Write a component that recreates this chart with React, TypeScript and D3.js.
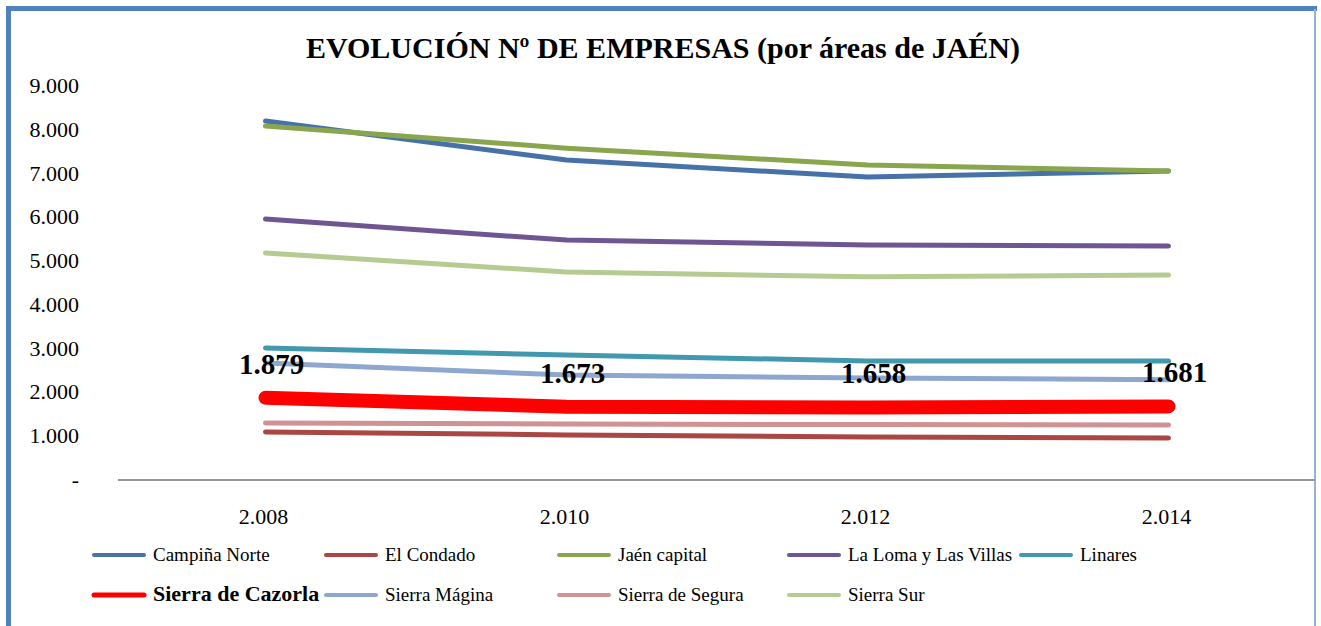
import React from "react";
import * as d3 from "d3";

const years = ["2.008", "2.010", "2.012", "2.014"];
const yTicks = [0, 1000, 2000, 3000, 4000, 5000, 6000, 7000, 8000, 9000];

const campinaNorte = [8200, 7310, 6920, 7060];
const elCondado = [1095, 1030, 980, 960];
const jaenCapital = [8085, 7580, 7195, 7060];
const laLoma = [5960, 5480, 5370, 5345];
const linares = [3015, 2855, 2720, 2720];
const sierraCazorla = [1879, 1673, 1658, 1681];
const sierraMagina = [2670, 2400, 2330, 2290];
const sierraSegura = [1300, 1280, 1265, 1255];
const sierraSur = [5185, 4750, 4640, 4680];

const seriesNames = [
  "Campiña Norte", "El Condado", "Jaén capital", "La Loma y Las Villas", "Linares",
  "Sierra de Cazorla", "Sierra Mágina", "Sierra de Segura", "Sierra Sur",
];
const seriesValues = [
  campinaNorte, elCondado, jaenCapital, laLoma, linares,
  sierraCazorla, sierraMagina, sierraSegura, sierraSur,
];
const seriesColors = [
  "#4672A8", "#AA4643", "#89A54E", "#6F5592", "#4198AF",
  "#FF0000", "#8EA7CE", "#D09293", "#B5CB92",
];
const highlight = "Sierra de Cazorla";

const W = 1321, H = 626;
const FONT = "'Liberation Serif', 'Times New Roman', serif";

const loc = d3.formatLocale({ decimal: ",", thousands: ".", grouping: [3], currency: ["", ""] });
const fmt = loc.format(",.0f");

export default function App() {
  const x = d3.scaleBand<string>().domain(years).range([115, 1319]).padding(0);
  const y = d3.scaleLinear().domain([0, 9000]).range([480, 86]);
  const cx = (i: number) => (x(years[i]) as number) + x.bandwidth() / 2;
  const line = d3.line<number>().x((_, i) => cx(i)).y((v) => y(v));

  const legendCols = [94, 326, 559, 789, 1021];
  const legendRows = [555, 595];

  return (
    <svg width={W} height={H} style={{ position: "absolute", left: 0, top: 0, background: "#fff" }} fontFamily={FONT}>
      <rect x={0} y={0} width={W} height={H} fill="#fff" />
      {/* frame */}
      <rect x={6} y={6} width={1311} height={5} fill="#4F81BD" />
      <rect x={6} y={6} width={5} height={H} fill="#4F81BD" />
      <rect x={1314} y={9} width={2} height={H} fill="#95B3D7" />

      <text x={663} y={58} textAnchor="middle" fontSize={30} fontWeight="bold" fill="#000">
        EVOLUCIÓN Nº DE EMPRESAS (por áreas de JAÉN)
      </text>

      {yTicks.map((t) => (
        <text key={t} x={79} y={y(t) + 7} textAnchor="end" fontSize={22} fill="#000">
          {t === 0 ? "-" : fmt(t)}
        </text>
      ))}

      <line x1={118} x2={1315} y1={y(0)} y2={y(0)} stroke="#969696" strokeWidth={2} />

      {years.map((yr, i) => (
        <text key={yr} x={cx(i) - 2} y={524} textAnchor="middle" fontSize={22} fill="#000">
          {yr}
        </text>
      ))}

      {seriesValues.map((vals, si) => (
        <path
          key={seriesNames[si]}
          d={line(vals) || ""}
          fill="none"
          stroke={seriesColors[si]}
          strokeWidth={seriesNames[si] === highlight ? 14 : 5}
          strokeLinecap="round"
          strokeLinejoin="round"
        />
      ))}

      {sierraCazorla.map((v, i) => (
        <text key={i} x={cx(i) + 6} y={y(v) - 24} textAnchor="middle" fontSize={29} fontWeight="bold" fill="#000">
          {fmt(v)}
        </text>
      ))}

      {seriesNames.map((name, si) => {
        const col = si % 5;
        const row = Math.floor(si / 5);
        const lx = legendCols[col];
        const ly = legendRows[row];
        const hi = name === highlight;
        return (
          <g key={name}>
            <line x1={lx} x2={lx + 50} y1={ly} y2={ly} stroke={seriesColors[si]} strokeWidth={hi ? 5 : 4} strokeLinecap="round" />
            <text x={lx + 59} y={ly + 6} fontSize={hi ? 22 : 19} fontWeight={hi ? "bold" : "normal"} fill="#000">
              {name}
            </text>
          </g>
        );
      })}
    </svg>
  );
}
